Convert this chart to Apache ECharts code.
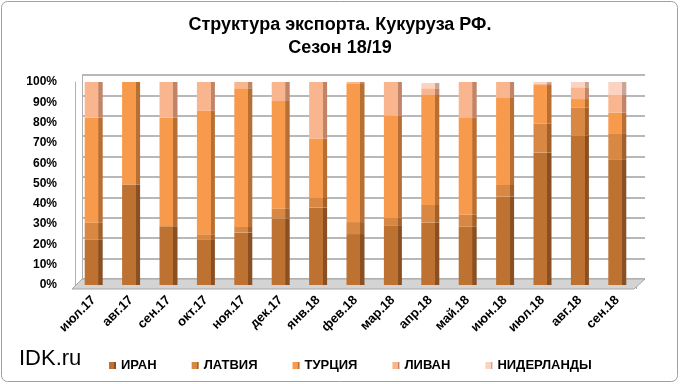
<!DOCTYPE html>
<html><head><meta charset="utf-8">
<script src="https://cdn.jsdelivr.net/npm/echarts@6/dist/echarts.min.js"></script>
<style>html,body{margin:0;padding:0;background:#fff}#c{width:680px;height:384px}</style>
</head><body><div id="c"></div>
<script>
var categories = ['июл.17','авг.17','сен.17','окт.17','ноя.17','дек.17','янв.18','фев.18','мар.18','апр.18','май.18','июн.18','июл.18','авг.18','сен.18'];
var iran        = [22.5, 49.5, 28.9, 22.2, 25.8, 32.8, 38.1, 25.1, 29.1, 30.7, 28.7, 43.5, 65.2, 73.6, 61.9];
var latvia      = [ 8.2,  0.0,  0.0,  2.8,  2.8,  4.8,  4.8,  5.9,  4.1,  8.7,  5.9,  5.8, 14.4, 13.9, 12.5];
var turkey      = [51.7, 50.5, 53.5, 60.9, 68.3, 53.0, 29.3, 68.0, 50.2, 54.2, 48.0, 42.8, 18.9,  4.1, 10.5];
var lebanon     = [17.6,  0.0, 17.6, 14.1,  3.1,  9.4, 27.8,  1.0, 16.6,  3.3, 17.4,  7.9,  0.5,  5.8,  8.7];
var netherlands = [ 0.0,  0.0,  0.0,  0.0,  0.0,  0.0,  0.0,  0.0,  0.0,  2.6,  0.0,  0.0,  1.0,  2.6,  6.4];
var seriesNames = ['ИРАН','ЛАТВИЯ','ТУРЦИЯ','ЛИВАН','НИДЕРЛАНДЫ'];
var yTicks = [0,10,20,30,40,50,60,70,80,90,100];

var faces = [
  ['#bd7232','#8a4f22'],
  ['#d98843','#a0612c'],
  ['#f79a4c','#b86f33'],
  ['#f9b68e','#c08468'],
  ['#fbd3c0','#c9a596']
];
function grad(f, s){
  return {type:'linear',x:0,y:0,x2:1,y2:0,colorStops:[
    {offset:0,color:f},{offset:0.76,color:f},{offset:0.77,color:s},{offset:1,color:s}]};
}
var values = [iran, latvia, turkey, lebanon, netherlands];
var font = 'Arial, "Liberation Sans", sans-serif';
var series = values.map(function(v,i){
  return {name:seriesNames[i], type:'bar', stack:'a', barWidth:18, xAxisIndex:0, yAxisIndex:0,
    data:v, itemStyle:{color:grad(faces[i][0], faces[i][1])}, z:3};
});
var chart = echarts.init(document.getElementById('c'), null, {renderer:'canvas'});
chart.setOption({
  animation:false,
  backgroundColor:'#fff',
  title:[
    {text:'Структура экспорта. Кукуруза РФ.\nСезон 18/19', left:'center', top:9,
     textStyle:{fontFamily:font, fontSize:18, fontWeight:'bold', color:'#000', lineHeight:23}},
    {text:'IDK.ru', left:14, top:343, textStyle:{fontFamily:font, fontSize:22, fontWeight:'normal', color:'#000'}}
  ],
  legend:{data:seriesNames, left:104, top:354, icon:'rect', itemWidth:7, itemHeight:7, itemGap:35,
    textStyle:{fontFamily:font, fontSize:13, fontWeight:'bold', color:'#000'}},
  grid:[
    {left:75, right:44, top:82, bottom:99},
    {left:82, right:35, top:75, bottom:105}
  ],
  xAxis:[
    {type:'category', gridIndex:0, data:categories, offset:4,
     axisLine:{show:false}, axisTick:{show:true, length:4, lineStyle:{color:'#a6a6a6'}},
     axisLabel:{rotate:45, margin:9, fontFamily:font, fontSize:13, fontWeight:'bold', color:'#000', interval:0}},
    {type:'category', gridIndex:1, data:categories, show:false}
  ],
  yAxis:[
    {type:'value', gridIndex:0, min:0, max:100, interval:10, splitLine:{show:false},
     axisLine:{show:true, lineStyle:{color:'#b0b0b0'}}, axisTick:{show:false},
     axisLabel:{margin:18, padding:[4,0,0,0], fontFamily:font, fontSize:12, fontWeight:'bold', color:'#000', formatter:function(v){return v+'%';}}},
    {type:'value', gridIndex:1, min:0, max:100, interval:10,
     splitLine:{show:true, lineStyle:{color:'#a0a0a0', width:1.5}},
     axisLine:{show:true, lineStyle:{color:'#b0b0b0'}}, axisTick:{show:false}, axisLabel:{show:false}}
  ],
  graphic:[
    {type:'rect', shape:{x:1.5,y:1.5,width:676,height:380,r:6}, style:{fill:'none', stroke:'#a0a0a0', lineWidth:1}, z:0},
    {type:'polygon', shape:{points:[[82,279],[645,279],[634,289],[72,289]]}, style:{fill:'#d4d4d4', stroke:'#a6a6a6', lineWidth:1}, z:1}
  ],
  series: series
});
</script></body></html>
